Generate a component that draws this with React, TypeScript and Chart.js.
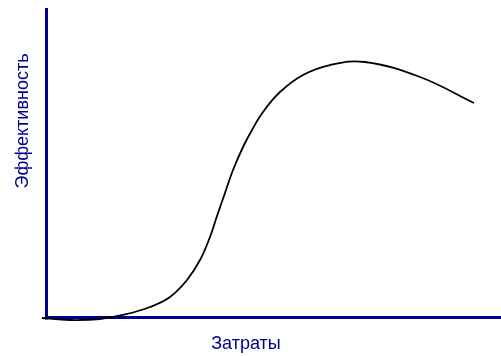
import React, { useEffect, useRef } from "react";
import { Chart, registerables } from "chart.js";

Chart.register(...registerables);

const costs = [-0.88, 5.27, 11.87, 17.36, 22.86, 27.25, 30.99, 33.85, 36.04, 37.58, 39.34, 41.1, 43.3, 45.27, 47.69, 51.43, 56.48, 62.42, 70.11, 82.2, 94.07];
const effect = [0, -0.65, -0.32, 1.13, 3.55, 6.77, 12.26, 18.71, 26.13, 32.9, 40.32, 47.74, 55.16, 60.65, 66.45, 72.9, 78.39, 81.61, 82.58, 77.74, 69.35];
const xTitle = "Затраты";
const yTitle = "Эффективность";

const AXIS_COLOR = "#000090";

const axesPlugin = {
  id: "customAxes",
  beforeDatasetsDraw(chart: any) {
    const { ctx, chartArea } = chart;
    const { left, top, right, bottom } = chartArea;
    ctx.save();
    ctx.strokeStyle = AXIS_COLOR;
    ctx.lineWidth = 3;
    ctx.beginPath();
    ctx.moveTo(left + 0.5, top);
    ctx.lineTo(left + 0.5, bottom + 1.5);
    ctx.moveTo(left - 1, bottom - 0.5);
    ctx.lineTo(right, bottom - 0.5);
    ctx.stroke();
    ctx.restore();
  },
  afterDraw(chart: any) {
    const { ctx } = chart;
    ctx.save();
    ctx.fillStyle = AXIS_COLOR;
    ctx.font = "18px 'Liberation Sans', Arial, sans-serif";
    ctx.textAlign = "center";
    ctx.textBaseline = "alphabetic";
    ctx.fillText(xTitle, 246, 349);
    ctx.translate(28, 121);
    ctx.rotate(-Math.PI / 2);
    ctx.fillText(yTitle, 0, 0);
    ctx.restore();
  },
};

export default function App() {
  const ref = useRef<HTMLCanvasElement | null>(null);
  useEffect(() => {
    document.body.style.margin = "0";
    const canvas = ref.current;
    if (!canvas) return;
    const chart = new Chart(canvas, {
      type: "line",
      data: {
        datasets: [
          {
            data: costs.map((x, i) => ({ x, y: effect[i] })),
            borderColor: "#000000",
            borderWidth: 1.8,
            pointRadius: 0,
            fill: false,
            tension: 0.4,
            clip: false as any,
          },
        ],
      },
      options: {
        animation: false,
        responsive: false,
        maintainAspectRatio: false,
        layout: { padding: { left: 46, top: 8, right: 0, bottom: 38 } },
        plugins: { legend: { display: false }, tooltip: { enabled: false } },
        scales: {
          x: { type: "linear", min: 0, max: 100, display: false },
          y: { type: "linear", min: 0, max: 100, display: false },
        },
      },
      plugins: [axesPlugin],
    });
    return () => chart.destroy();
  }, []);
  return (
    <div style={{ width: 501, height: 356 }}>
      <canvas ref={ref} width={501} height={356} style={{ display: "block" }} />
    </div>
  );
}
